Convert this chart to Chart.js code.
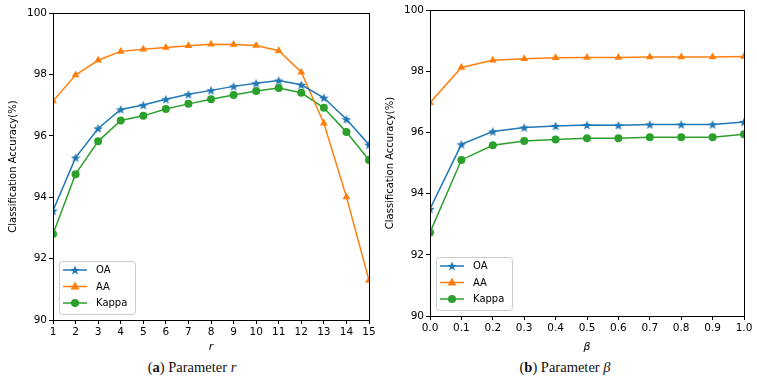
<!DOCTYPE html>
<html>
<head>
  <script src="https://cdn.jsdelivr.net/npm/chart.js"></script>
  <style>
    body { margin: 0; background: #fff; width: 757px; height: 382px; position: relative; overflow: hidden; }
    .box { position: absolute; top: 0; height: 358px; }
    .cap { position: absolute; top: 359px; font-family: "Liberation Serif", "DejaVu Serif", serif; font-size: 14.5px; color: #111; white-space: nowrap; transform: translateX(-50%); }
  </style>
</head>
<body>
  <div class="box" style="left:0;width:378px"><canvas id="chartR" width="378" height="358"></canvas></div>
  <div class="box" style="left:380px;width:377px"><canvas id="chartB" width="377" height="358"></canvas></div>
  <div class="cap" style="left:192px">(<b>a</b>) Parameter <i>r</i></div>
  <div class="cap" style="left:565px">(<b>b</b>) Parameter <i>β</i></div>

  <script>
    // parameter r
    var rValues = [1, 2, 3, 4, 5, 6, 7, 8, 9, 10, 11, 12, 13, 14, 15];
    var oaR    = [93.56, 95.29, 96.24, 96.86, 97.00, 97.19, 97.35, 97.48, 97.61, 97.71, 97.80, 97.66, 97.24, 96.54, 95.71];
    var aaR    = [97.13, 97.98, 98.46, 98.75, 98.82, 98.88, 98.93, 98.98, 98.97, 98.94, 98.77, 98.07, 96.41, 94.01, 91.29];
    var kappaR = [92.80, 94.75, 95.82, 96.50, 96.65, 96.87, 97.04, 97.19, 97.33, 97.46, 97.56, 97.40, 96.91, 96.12, 95.21];

    // parameter beta
    var betaValues = [0.0, 0.1, 0.2, 0.3, 0.4, 0.5, 0.6, 0.7, 0.8, 0.9, 1.0];
    var oaB    = [93.50, 95.61, 96.03, 96.16, 96.21, 96.24, 96.23, 96.26, 96.26, 96.26, 96.34];
    var aaB    = [96.97, 98.12, 98.36, 98.41, 98.44, 98.45, 98.45, 98.46, 98.46, 98.46, 98.48];
    var kappaB = [92.73, 95.10, 95.58, 95.72, 95.77, 95.81, 95.81, 95.84, 95.84, 95.84, 95.94];

    var blue = '#1f77b4', orange = '#ff7f0e', green = '#2ca02c';
    var tickFont = { family: 'DejaVu Sans', size: 10.5 };

    // filled 5-point star like matplotlib '*'
    function makeStar(size, color) {
      var c = document.createElement('canvas');
      c.width = size; c.height = size;
      var g = c.getContext('2d');
      var cx = size / 2, cy = size / 2, ro = size / 2, ri = ro * 0.42;
      g.beginPath();
      for (var i = 0; i < 10; i++) {
        var r = i % 2 ? ri : ro;
        var a = -Math.PI / 2 + i * Math.PI / 5;
        g.lineTo(cx + r * Math.cos(a), cy + r * Math.sin(a) + 0.5);
      }
      g.closePath();
      g.fillStyle = color;
      g.fill();
      return c;
    }
    var starImg = makeStar(10, blue);

    function pts(xs, ys) {
      return xs.map(function (x, i) { return { x: x, y: ys[i] }; });
    }

    // black frame around plot area
    var framePlugin = {
      id: 'frame',
      afterDraw: function (chart) {
        var a = chart.chartArea, g = chart.ctx;
        g.save();
        g.strokeStyle = '#000';
        g.lineWidth = 1;
        g.strokeRect(Math.round(a.left) + 0.5, Math.round(a.top) + 0.5,
          Math.round(a.right - a.left), Math.round(a.bottom - a.top));
        g.restore();
      }
    };

    // legend box in lower left corner
    var legendPlugin = {
      id: 'boxLegend',
      afterDraw: function (chart) {
        var a = chart.chartArea, g = chart.ctx;
        var w = 76, h = 53;
        var x0 = a.left + 6, y0 = a.bottom - 6 - h;
        g.save();
        g.fillStyle = 'rgba(255,255,255,0.8)';
        g.strokeStyle = '#cccccc';
        g.lineWidth = 1;
        g.beginPath();
        g.roundRect(x0 + 0.5, y0 + 0.5, w, h, 3);
        g.fill();
        g.stroke();
        chart.data.datasets.forEach(function (ds, i) {
          var y = y0 + 9 + i * 16.5;
          g.strokeStyle = ds.borderColor;
          g.lineWidth = 1.5;
          g.beginPath();
          g.moveTo(x0 + 4, y);
          g.lineTo(x0 + 28, y);
          g.stroke();
          var mx = x0 + 16;
          g.fillStyle = ds.borderColor;
          if (ds.label === 'OA') {
            g.drawImage(starImg, mx - 5, y - 5);
          } else if (ds.label === 'AA') {
            g.beginPath();
            g.moveTo(mx, y - 5);
            g.lineTo(mx + 4.5, y + 3);
            g.lineTo(mx - 4.5, y + 3);
            g.closePath();
            g.fill();
          } else {
            g.beginPath();
            g.arc(mx, y, 4, 0, Math.PI * 2);
            g.fill();
          }
          g.fillStyle = '#000';
          g.font = '10px "DejaVu Sans"';
          g.textBaseline = 'middle';
          g.fillText(ds.label, x0 + 37, y + 0.5);
        });
        g.restore();
      }
    };

    function makeDatasets(xs, oa, aa, kappa) {
      return [
        { label: 'OA', data: pts(xs, oa), borderColor: blue, backgroundColor: blue, borderWidth: 1.5,
          pointStyle: starImg, pointRadius: 5, pointHoverRadius: 5 },
        { label: 'AA', data: pts(xs, aa), borderColor: orange, backgroundColor: orange, borderWidth: 1.5,
          pointStyle: 'triangle', pointRadius: 4.5, pointBorderWidth: 0 },
        { label: 'Kappa', data: pts(xs, kappa), borderColor: green, backgroundColor: green, borderWidth: 1.5,
          pointStyle: 'circle', pointRadius: 4, pointBorderWidth: 0 }
      ];
    }

    function makeOptions(o) {
      return {
        responsive: false,
        animation: false,
        layout: { padding: { top: o.top, right: o.right, left: 0, bottom: 0 } },
        plugins: { legend: { display: false }, tooltip: { enabled: false } },
        scales: {
          x: {
            type: 'linear', min: o.xmin, max: o.xmax,
            grid: { drawOnChartArea: false, drawTicks: true, tickLength: 4, color: '#000' },
            border: { display: false },
            ticks: { stepSize: o.step, autoSkip: false, maxRotation: 0, color: '#000', font: tickFont, padding: 2,
              callback: o.fmt },
            title: { display: true, text: o.xtitle, color: '#000',
              font: { family: 'DejaVu Sans', size: 11, style: 'italic' }, padding: { top: 0, bottom: 4 } },
            afterFit: function (s) { s.height = o.xh; }
          },
          y: {
            min: 90, max: 100,
            grid: { drawOnChartArea: false, drawTicks: true, tickLength: 4, color: '#000' },
            border: { display: false },
            ticks: { stepSize: 2, color: '#000', font: tickFont, padding: 2 },
            title: { display: true, text: 'Classification Accuracy(%)', color: '#000',
              font: { family: 'DejaVu Sans', size: 10 }, padding: { top: o.ytp, bottom: 0 } },
            afterFit: function (s) { s.width = o.yw; }
          }
        }
      };
    }

    new Chart(document.getElementById('chartR').getContext('2d'), {
      type: 'line',
      data: { datasets: makeDatasets(rValues, oaR, aaR, kappaR) },
      options: makeOptions({ top: 13, right: 9, xmin: 1, xmax: 15, step: 1, xtitle: 'r', xh: 38, yw: 53, ytp: 7,
        fmt: function (v) { return v; } }),
      plugins: [framePlugin, legendPlugin]
    });

    new Chart(document.getElementById('chartB').getContext('2d'), {
      type: 'line',
      data: { datasets: makeDatasets(betaValues, oaB, aaB, kappaB) },
      options: makeOptions({ top: 10, right: 13, xmin: 0, xmax: 1, step: 0.1, xtitle: 'β', xh: 42, yw: 50, ytp: 4,
        fmt: function (v) { return Number(v).toFixed(1); } }),
      plugins: [framePlugin, legendPlugin]
    });
  </script>
</body>
</html>
